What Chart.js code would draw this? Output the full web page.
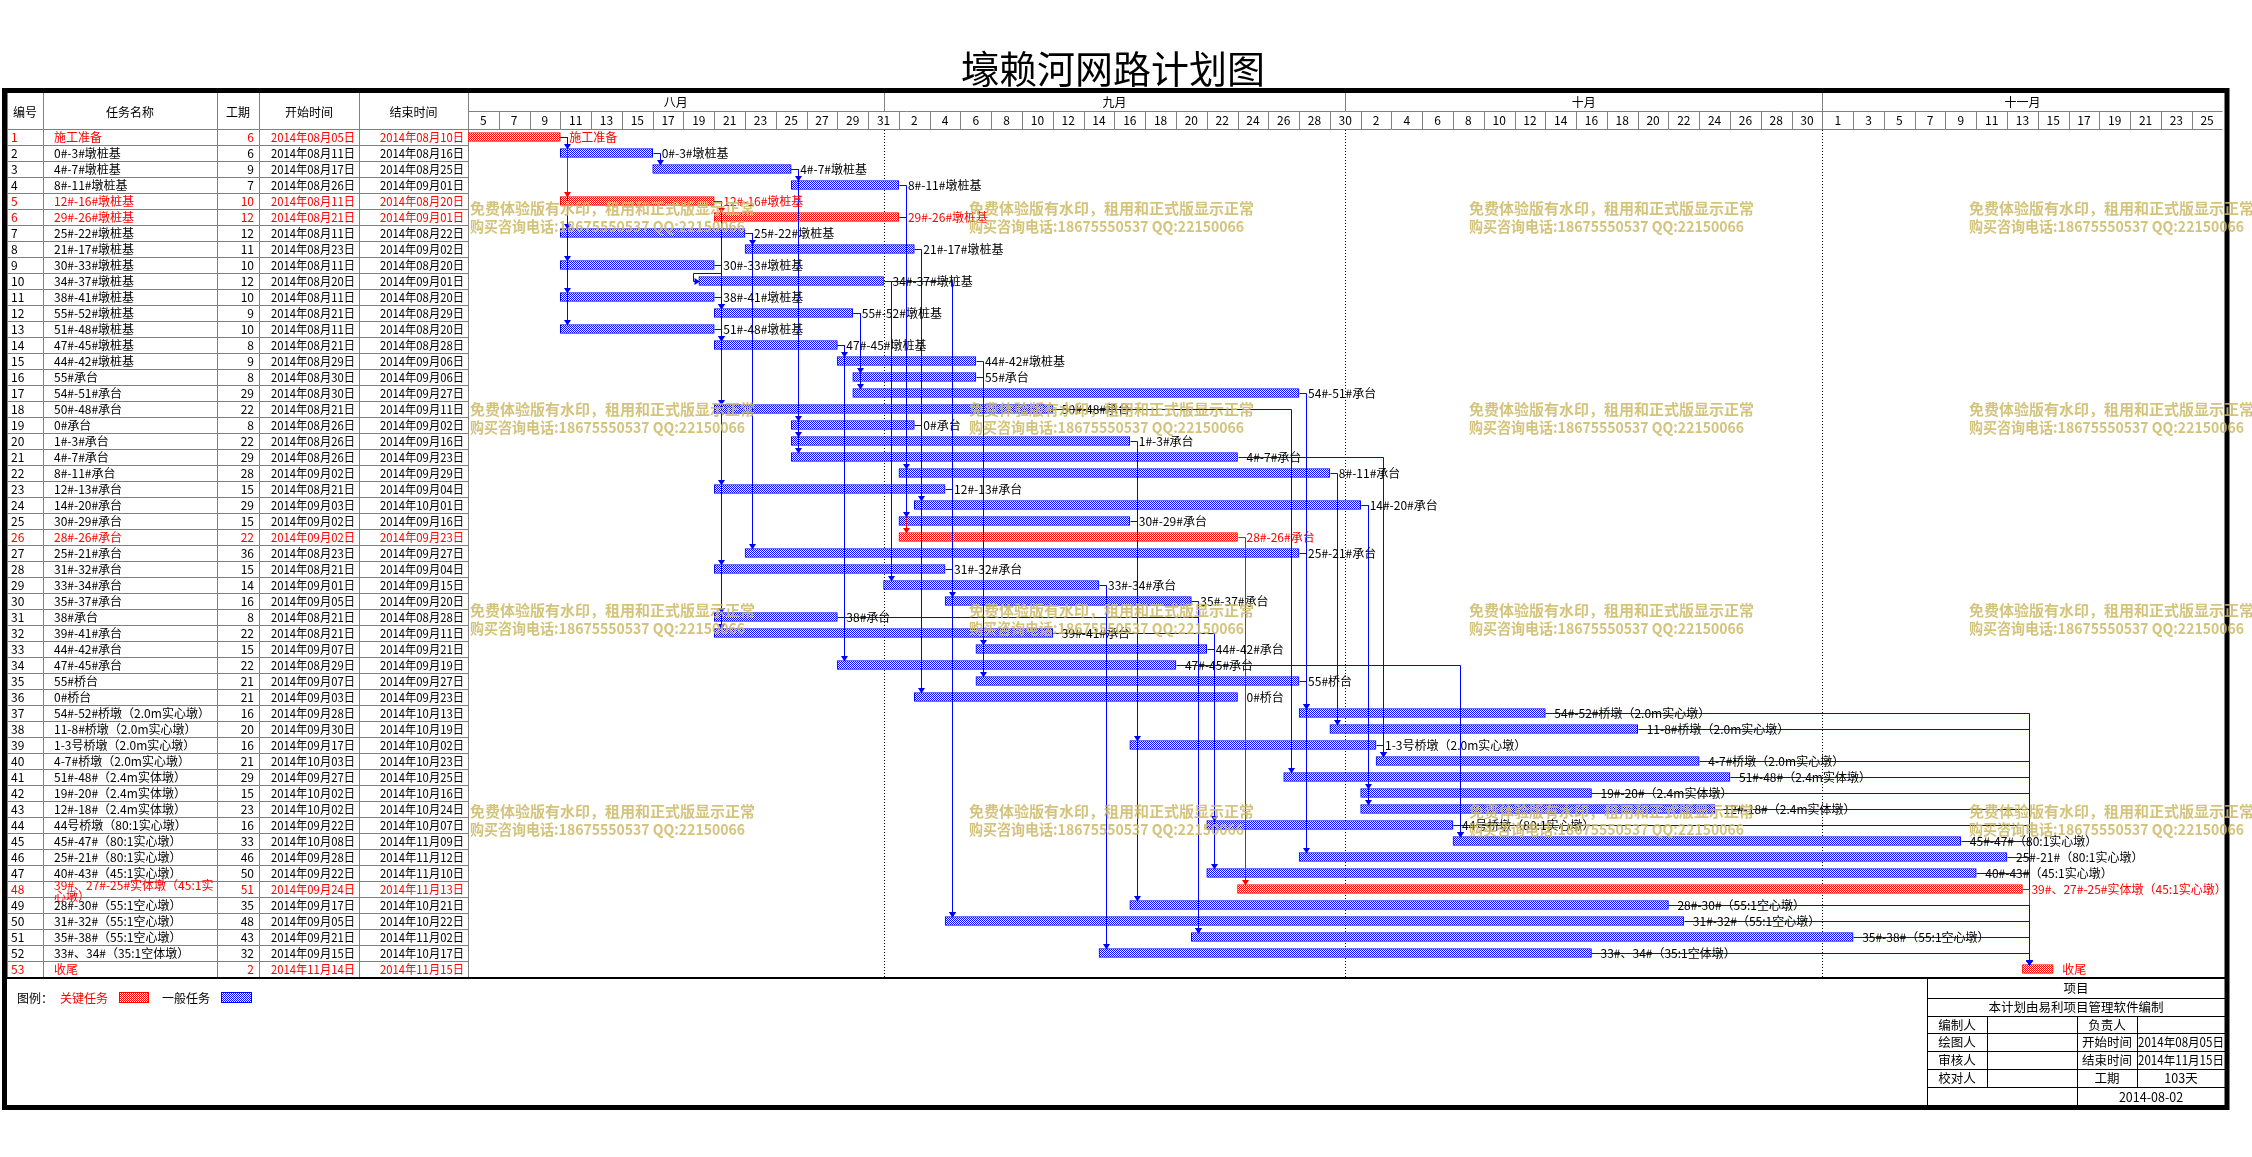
<!DOCTYPE html>
<html lang="zh-CN">
<head>
<meta charset="UTF-8">
<title>壕赖河网路计划图</title>
<style>
    html, body { margin: 0; padding: 0; background: #fff; }
    canvas { display: block; }
</style>
<script src="https://cdn.jsdelivr.net/npm/chart.js"></script>
</head>
<body>
<canvas id="gantt" width="2252" height="1157"></canvas>
<script>
const taskNames = [
    '施工准备', '0#-3#墩桩基', '4#-7#墩桩基', '8#-11#墩桩基', '12#-16#墩桩基', '29#-26#墩桩基',
    '25#-22#墩桩基', '21#-17#墩桩基', '30#-33#墩桩基', '34#-37#墩桩基', '38#-41#墩桩基', '55#-52#墩桩基',
    '51#-48#墩桩基', '47#-45#墩桩基', '44#-42#墩桩基', '55#承台', '54#-51#承台', '50#-48#承台',
    '0#承台', '1#-3#承台', '4#-7#承台', '8#-11#承台', '12#-13#承台', '14#-20#承台',
    '30#-29#承台', '28#-26#承台', '25#-21#承台', '31#-32#承台', '33#-34#承台', '35#-37#承台',
    '38#承台', '39#-41#承台', '44#-42#承台', '47#-45#承台', '55#桥台', '0#桥台',
    '54#-52#桥墩（2.0m实心墩）', '11-8#桥墩（2.0m实心墩）', '1-3号桥墩（2.0m实心墩）', '4-7#桥墩（2.0m实心墩）',
    '51#-48#（2.4m实体墩）', '19#-20#（2.4m实体墩）', '12#-18#（2.4m实体墩）', '44号桥墩（80:1实心墩）',
    '45#-47#（80:1实心墩）', '25#-21#（80:1实心墩）', '40#-43#（45:1实心墩）', '39#、27#-25#实体墩（45:1实心墩）',
    '28#-30#（55:1空心墩）', '31#-32#（55:1空心墩）', '35#-38#（55:1空心墩）', '33#、34#（35:1空体墩）', '收尾'
];
const durations = [6, 6, 9, 7, 10, 12, 12, 11, 10, 12, 10, 9, 10, 8, 9, 8, 29, 22, 8, 22, 29, 28, 15, 29, 15, 22,
    36, 15, 14, 16, 8, 22, 15, 22, 21, 21, 16, 20, 16, 21, 29, 15, 23, 16, 33, 46, 50, 51, 35, 48, 43, 32, 2];
const startDates = [
    '2014-08-05', '2014-08-11', '2014-08-17', '2014-08-26', '2014-08-11', '2014-08-21', '2014-08-11', '2014-08-23',
    '2014-08-11', '2014-08-20', '2014-08-11', '2014-08-21', '2014-08-11', '2014-08-21', '2014-08-29', '2014-08-30',
    '2014-08-30', '2014-08-21', '2014-08-26', '2014-08-26', '2014-08-26', '2014-09-02', '2014-08-21', '2014-09-03',
    '2014-09-02', '2014-09-02', '2014-08-23', '2014-08-21', '2014-09-01', '2014-09-05', '2014-08-21', '2014-08-21',
    '2014-09-07', '2014-08-29', '2014-09-07', '2014-09-03', '2014-09-28', '2014-09-30', '2014-09-17', '2014-10-03',
    '2014-09-27', '2014-10-02', '2014-10-02', '2014-09-22', '2014-10-08', '2014-09-28', '2014-09-22', '2014-09-24',
    '2014-09-17', '2014-09-05', '2014-09-21', '2014-09-15', '2014-11-14'
];
const endDates = [
    '2014-08-10', '2014-08-16', '2014-08-25', '2014-09-01', '2014-08-20', '2014-09-01', '2014-08-22', '2014-09-02',
    '2014-08-20', '2014-09-01', '2014-08-20', '2014-08-29', '2014-08-20', '2014-08-28', '2014-09-06', '2014-09-06',
    '2014-09-27', '2014-09-11', '2014-09-02', '2014-09-16', '2014-09-23', '2014-09-29', '2014-09-04', '2014-10-01',
    '2014-09-16', '2014-09-23', '2014-09-27', '2014-09-04', '2014-09-15', '2014-09-20', '2014-08-28', '2014-09-11',
    '2014-09-21', '2014-09-19', '2014-09-27', '2014-09-23', '2014-10-13', '2014-10-19', '2014-10-02', '2014-10-23',
    '2014-10-25', '2014-10-16', '2014-10-24', '2014-10-07', '2014-11-09', '2014-11-12', '2014-11-10', '2014-11-13',
    '2014-10-21', '2014-10-22', '2014-11-02', '2014-10-17', '2014-11-15'
];
const criticalTasks = [1, 5, 6, 26, 48, 53];
// predecessor -> successor
const links = [
    [1, 2], [1, 5], [1, 7], [1, 9], [1, 11], [1, 13], [2, 3], [3, 4], [3, 19], [3, 20], [3, 21], [4, 22],
    [5, 6], [5, 12], [5, 14], [5, 18], [5, 23], [5, 28], [5, 31], [5, 32], [6, 25], [6, 26], [7, 8], [7, 27],
    [8, 24], [9, 10], [10, 29], [10, 30], [11, 12], [12, 16], [12, 17], [13, 14], [14, 15], [14, 34], [15, 33],
    [16, 35], [17, 37], [18, 41], [19, 36], [20, 39], [21, 40], [22, 38], [23, 50], [24, 42], [24, 43], [25, 49],
    [26, 48], [27, 46], [28, 50], [29, 52], [30, 51], [31, 51], [32, 47], [33, 44], [34, 45], [35, 37], [39, 40],
    [44, 45], [37, 53], [38, 53], [40, 53], [41, 53], [42, 53], [43, 53], [44, 53], [45, 53], [46, 53], [47, 53],
    [48, 53], [49, 53], [50, 53], [51, 53], [52, 53]
];
const monthLabels = ['八月', '九月', '十月', '十一月'];
const monthStarts = ['2014-08-05', '2014-09-01', '2014-10-01', '2014-11-01'];
const dayTickLabels = ['5', '7', '9', '11', '13', '15', '17', '19', '21', '23', '25', '27', '29', '31',
    '2', '4', '6', '8', '10', '12', '14', '16', '18', '20', '22', '24', '26', '28', '30',
    '2', '4', '6', '8', '10', '12', '14', '16', '18', '20', '22', '24', '26', '28', '30',
    '1', '3', '5', '7', '9', '11', '13', '15', '17', '19', '21', '23', '25'];
const axisStart = '2014-08-05';
const axisEnd = '2014-11-27';
const tableHeaders = ['编号', '任务名称', '工期', '开始时间', '结束时间'];
const chartTitle = '壕赖河网路计划图';
const watermark = ['免费体验版有水印，租用和正式版显示正常', '购买咨询电话:18675550537 QQ:22150066'];

// ---- helpers ----
const FONT = '"Noto Sans CJK SC", "Noto Sans", sans-serif';
const BAR_H = 9;
const tableCols = [7, 43, 217, 259, 359, 468];

function dayOff(s) {
    const [y, m, d] = s.split('-').map(Number);
    const [y0, m0, d0] = axisStart.split('-').map(Number);
    return (Date.UTC(y, m - 1, d) - Date.UTC(y0, m0 - 1, d0)) / 86400000;
}
function cnDate(s) {
    const [y, m, d] = s.split('-');
    return y + '年' + m + '月' + d + '日';
}
const ids = taskNames.map((_, i) => String(i + 1));
const startOff = startDates.map(dayOff);
const endOff = startOff.map((s, i) => s + durations[i]);
const isCrit = ids.map(id => criticalTasks.includes(Number(id)));

const canvas = document.getElementById('gantt');
const mainCtx = canvas.getContext('2d');
function checker(color) {
    const c = document.createElement('canvas');
    c.width = 2; c.height = 2;
    const g = c.getContext('2d');
    g.fillStyle = '#ffffff'; g.fillRect(0, 0, 2, 2);
    g.fillStyle = color; g.fillRect(0, 0, 1, 1); g.fillRect(1, 1, 1, 1);
    return mainCtx.createPattern(c, 'repeat');
}
const redFill = checker('#ff0000');
const blueFill = checker('#0000ff');

function hline(ctx, x0, x1, y) { ctx.beginPath(); ctx.moveTo(x0, y); ctx.lineTo(x1, y); ctx.stroke(); }
function vline(ctx, x, y0, y1) { ctx.beginPath(); ctx.moveTo(x, y0); ctx.lineTo(x, y1); ctx.stroke(); }
const px = v => Math.round(v) + 0.5;

function wrapText(ctx, s, maxW) {
    if (ctx.measureText(s).width <= maxW) return [s];
    let line = '';
    for (let k = 0; k < s.length; k++) {
        if (ctx.measureText(line + s[k]).width > maxW) return [line, s.slice(k)];
        line += s[k];
    }
    return [s];
}

// ---- table, header, grid ----
function drawTable(chart) {
    const { ctx, scales: { x, y }, chartArea: area } = chart;
    const rowH = y.getPixelForValue(1) - y.getPixelForValue(0);
    const top = 93, mid = 111, head = area.top, bottom = area.bottom;
    const gx0 = area.left, gx1 = area.right;
    ctx.save();
    ctx.strokeStyle = '#808080';
    ctx.lineWidth = 1;

    // table row lines
    for (let i = 0; i < ids.length; i++) {
        hline(ctx, tableCols[0], gx0, px(y.getPixelForValue(i) + rowH / 2));
    }
    hline(ctx, tableCols[0], gx1, px(head));
    hline(ctx, gx0, gx1, px(mid));
    tableCols.forEach(c => vline(ctx, px(c), top, bottom));

    // month separators and day columns
    monthStarts.slice(1).forEach(m => vline(ctx, px(x.getPixelForValue(dayOff(m))), top, mid));
    for (let k = 1; k < dayTickLabels.length; k++) {
        vline(ctx, px(x.getPixelForValue(k * 2)), mid, head);
    }

    ctx.fillStyle = '#000';
    ctx.textBaseline = 'middle';
    ctx.textAlign = 'center';
    ctx.font = '12px ' + FONT;
    const maxDay = dayOff(axisEnd);
    monthStarts.forEach((m, i) => {
        const a = dayOff(m), b = i + 1 < monthStarts.length ? dayOff(monthStarts[i + 1]) : maxDay;
        ctx.fillText(monthLabels[i], x.getPixelForValue((a + b) / 2), 102);
    });
    dayTickLabels.forEach((t, k) => ctx.fillText(t, x.getPixelForValue(k * 2 + 1), 120.5));
    tableHeaders.forEach((h, i) => ctx.fillText(h, (tableCols[i] + tableCols[i + 1]) / 2, 112));

    // dotted month lines in the bar area
    ctx.strokeStyle = '#000';
    ctx.setLineDash([1, 2]);
    monthStarts.slice(1).forEach(m => vline(ctx, px(x.getPixelForValue(dayOff(m))), head + 1, bottom));
    ctx.setLineDash([]);

    // table rows
    ctx.font = '12px ' + FONT;
    ids.forEach((id, i) => {
        const yc = y.getPixelForValue(i) + 0.5;
        ctx.fillStyle = isCrit[i] ? '#ff0000' : '#000000';
        ctx.textAlign = 'left';
        ctx.fillText(id, 11, yc);
        const lines = wrapText(ctx, taskNames[i], 160);
        if (lines.length === 1) ctx.fillText(lines[0], 54, yc);
        else { ctx.fillText(lines[0], 54, yc - 4.5); ctx.fillText(lines[1], 54, yc + 6.5); }
        ctx.textAlign = 'right';
        ctx.fillText(String(durations[i]), 254, yc);
        ctx.fillText(cnDate(startDates[i]), 355, yc, 84);
        ctx.fillText(cnDate(endDates[i]), 464, yc, 84);
    });
    ctx.restore();
}

// ---- dependency links and bar labels ----
function drawLinks(chart) {
    const { ctx, scales: { x, y } } = chart;
    const rowH = y.getPixelForValue(1) - y.getPixelForValue(0);
    const order = links.slice().sort((a, b) => a[0] - b[0] || b[1] - a[1]);
    ctx.save();
    ctx.lineWidth = 1;
    order.forEach(([a, b]) => {
        const ia = a - 1, ib = b - 1;
        const col = isCrit[ia] && isCrit[ib] ? '#ff0000' : '#0000ff';
        ctx.strokeStyle = col;
        ctx.fillStyle = col;
        const xe = px(x.getPixelForValue(endOff[ia]));
        const xs = px(x.getPixelForValue(startOff[ib]));
        const ya = px(y.getPixelForValue(ia));
        const yb = px(y.getPixelForValue(ib));
        const barTop = yb - BAR_H / 2;
        const xv = xs + 7;
        ctx.beginPath();
        if (xv > xe) {
            ctx.moveTo(xe, ya); ctx.lineTo(xv, ya); ctx.lineTo(xv, barTop - 3);
            ctx.stroke();
            ctx.beginPath();
            ctx.moveTo(xv - 3.5, barTop - 5); ctx.lineTo(xv + 3.5, barTop - 5); ctx.lineTo(xv, barTop + 0.5);
            ctx.closePath(); ctx.fill();
        } else {
            const xr = xe + 7, ym = ya + rowH / 2, xl = xs - 6;
            ctx.moveTo(xe, ya); ctx.lineTo(xr, ya); ctx.lineTo(xr, ym);
            ctx.lineTo(xl, ym); ctx.lineTo(xl, yb); ctx.lineTo(xs - 3, yb);
            ctx.stroke();
            ctx.beginPath();
            ctx.moveTo(xs - 5, yb - 3.5); ctx.lineTo(xs - 5, yb + 3.5); ctx.lineTo(xs + 0.5, yb);
            ctx.closePath(); ctx.fill();
        }
    });

    ctx.font = '12px ' + FONT;
    ctx.textBaseline = 'middle';
    ctx.textAlign = 'left';
    ids.forEach((id, i) => {
        ctx.fillStyle = isCrit[i] ? '#ff0000' : '#000000';
        ctx.fillText(taskNames[i], x.getPixelForValue(endOff[i]) + 9, y.getPixelForValue(i) + 0.5);
    });
    ctx.restore();
}

// ---- frame, title, legend, title block, watermark ----
function drawExtras(chart) {
    const { ctx, chartArea: area } = chart;
    ctx.save();
    ctx.strokeStyle = '#000';
    ctx.lineWidth = 2;
    hline(ctx, 7, 2225, 978);
    ctx.lineWidth = 5;
    ctx.strokeRect(4.5, 90.5, 2222.5, 1017);

    ctx.fillStyle = '#000';
    ctx.textBaseline = 'middle';
    ctx.textAlign = 'center';
    ctx.font = '38px ' + FONT;
    ctx.fillText(chartTitle, 1113, 69);

    // legend
    ctx.font = '12px ' + FONT;
    ctx.textAlign = 'left';
    ctx.fillStyle = '#000'; ctx.fillText('图例：', 17, 998);
    ctx.fillStyle = '#ff0000'; ctx.fillText('关键任务', 60, 998);
    ctx.fillStyle = redFill; ctx.fillRect(119, 992, 29, 10);
    ctx.lineWidth = 1; ctx.strokeStyle = '#ff0000'; ctx.strokeRect(119.5, 992.5, 29, 10);
    ctx.fillStyle = '#000'; ctx.fillText('一般任务', 162, 998);
    ctx.fillStyle = blueFill; ctx.fillRect(221, 992, 30, 10);
    ctx.strokeStyle = '#0000ff'; ctx.strokeRect(221.5, 992.5, 30, 10);

    // title block
    const bx0 = 1927, bx1 = 2225;
    const rows = [978, 998, 1016, 1033, 1051, 1069, 1087, 1106];
    ctx.strokeStyle = '#000';
    ctx.lineWidth = 1;
    vline(ctx, px(bx0), 978, 1106);
    rows.slice(1, 7).forEach(r => hline(ctx, bx0, bx1, px(r)));
    vline(ctx, px(1987), rows[2], rows[6]);
    vline(ctx, px(2077), rows[2], rows[7]);
    vline(ctx, px(2137), rows[2], rows[6]);
    const ymid = k => (rows[k] + rows[k + 1]) / 2 + 0.5;
    const first = startDates.reduce((a, b) => (b < a ? b : a));
    const last = endDates.reduce((a, b) => (b > a ? b : a));
    const total = dayOff(last) - dayOff(first) + 1;
    ctx.fillStyle = '#000';
    ctx.textAlign = 'center';
    ctx.font = '12.5px ' + FONT;
    ctx.fillText('项目', (bx0 + bx1) / 2, ymid(0));
    ctx.fillText('本计划由易利项目管理软件编制', (bx0 + bx1) / 2, ymid(1));
    [['编制人', '负责人', ''], ['绘图人', '开始时间', cnDate(first)], ['审核人', '结束时间', cnDate(last)],
        ['校对人', '工期', total + '天']].forEach((r, k) => {
        ctx.fillText(r[0], 1957, ymid(k + 2));
        ctx.fillText(r[1], 2107, ymid(k + 2));
        ctx.fillText(r[2], 2181, ymid(k + 2), 86);
    });
    ctx.fillText('2014-08-02', 2151, ymid(6));

    // trial-version watermark
    ctx.fillStyle = 'rgba(205, 185, 100, 0.85)';
    ctx.font = 'bold 15px ' + FONT;
    ctx.textAlign = 'left';
    [470, 969, 1469, 1969].forEach(wx => {
        [208, 409, 610, 811].forEach(wy => {
            ctx.fillText(watermark[0], wx, wy, 285);
            ctx.fillText(watermark[1], wx, wy + 18, 275);
        });
    });
    ctx.restore();
}

const planPlugin = {
    id: 'plan',
    beforeDraw(chart) {
        const ctx = chart.ctx;
        ctx.save();
        ctx.fillStyle = '#ffffff';
        ctx.fillRect(0, 0, chart.width, chart.height);
        ctx.restore();
    },
    beforeDatasetsDraw: drawTable,
    afterDatasetsDraw: drawLinks,
    afterDraw: drawExtras
};

new Chart(mainCtx, {
    type: 'bar',
    data: {
        labels: ids,
        datasets: [{
            data: ids.map((_, i) => [startOff[i], endOff[i]]),
            backgroundColor: isCrit.map(c => (c ? redFill : blueFill)),
            borderColor: isCrit.map(c => (c ? '#ff0000' : '#0000ff')),
            borderWidth: 1,
            borderSkipped: false,
            barThickness: BAR_H
        }]
    },
    options: {
        indexAxis: 'y',
        responsive: false,
        animation: false,
        devicePixelRatio: 1,
        layout: { padding: { left: 468, right: 29.5, top: 129, bottom: 180 } },
        scales: {
            x: { type: 'linear', min: 0, max: dayOff(axisEnd), display: false },
            y: { type: 'category', display: false }
        },
        plugins: { legend: { display: false }, tooltip: { enabled: false }, title: { display: false } }
    },
    plugins: [planPlugin]
});
</script>
</body>
</html>
